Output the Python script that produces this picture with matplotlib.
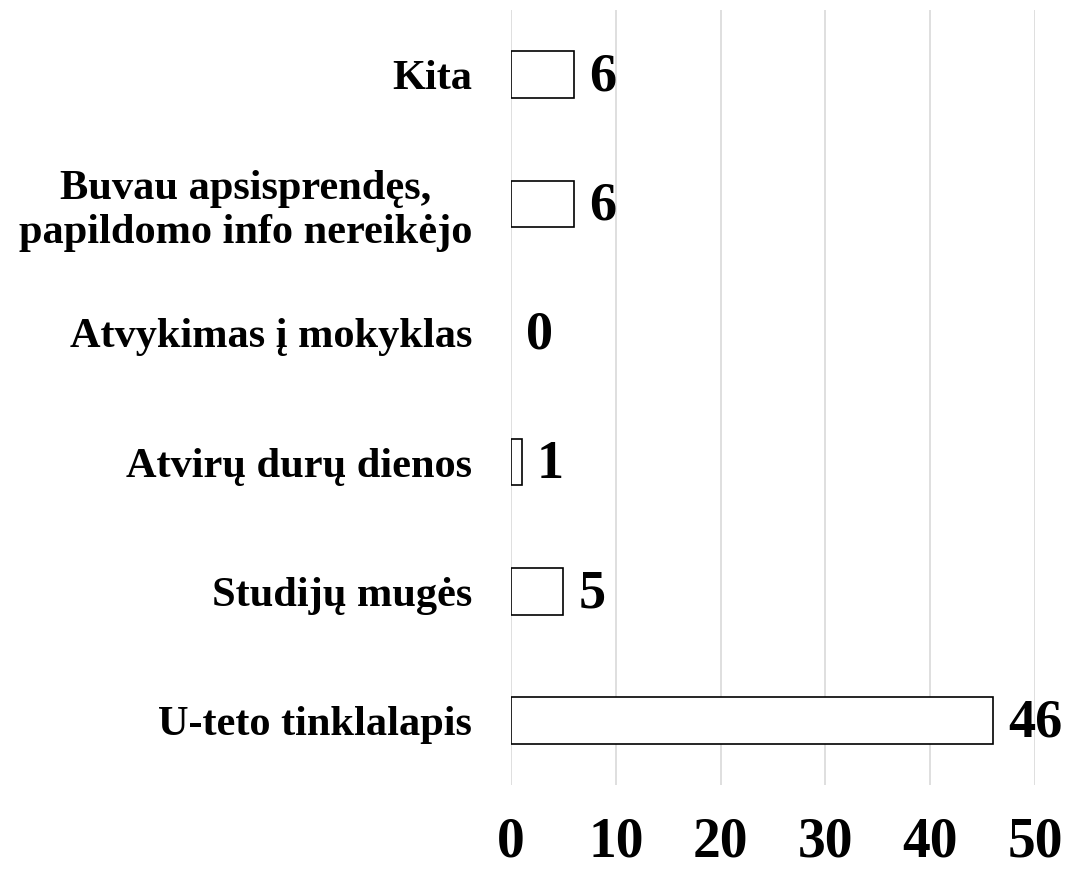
import matplotlib.pyplot as plt

plt.rcParams['font.family'] = ['Liberation Serif', 'DejaVu Serif']
plt.rcParams['font.weight'] = 'bold'

# data (from bottom to top)
kategorijos = ['U-teto tinklalapis', 'Studijų mugės', 'Atvirų durų dienos',
               'Atvykimas į mokyklas', 'Buvau apsisprendęs,\npapildomo info nereikėjo', 'Kita']
reiksmes = [46, 5, 1, 0, 6, 6]
x_ticks = [0, 10, 20, 30, 40, 50]

fig = plt.figure(figsize=(10.68, 8.71), dpi=100)
ax = fig.add_axes([0.4785, 0.0987, 0.969 - 0.4785, 0.9885 - 0.0987])

y = list(range(len(kategorijos)))
bars = ax.barh(y, reiksmes, height=0.36, color='white', edgecolor='black', linewidth=1.2, zorder=3)
for b, v in zip(bars, reiksmes):
    if v == 0:
        b.set_linewidth(0)
    ax.annotate(str(v), xy=(v, b.get_y() + b.get_height() / 2), xytext=(11, -2),
                textcoords='offset points', ha='left', va='center',
                fontsize=39, fontweight='bold')

ax.set_xlim(0, 50)
ax.set_ylim(-0.5, 5.5)
ax.set_xticks(x_ticks)
ax.set_xticklabels([str(t) for t in x_ticks], fontsize=40, fontweight='bold')
ax.set_yticks(y)
ax.set_yticklabels(kategorijos, fontsize=30.5, fontweight='bold', linespacing=1.2)
ax.tick_params(axis='x', length=0, pad=23)
ax.tick_params(axis='y', length=0, pad=28)
for lbl in ax.get_yticklabels():
    lbl.set_horizontalalignment('right')
    lbl.set_multialignment('center')

ax.grid(axis='x', color='#d9d9d9', linewidth=1.2, zorder=0)
ax.grid(axis='y', visible=False)
for s in ax.spines.values():
    s.set_visible(False)

fig.savefig('out.png', dpi=100)
